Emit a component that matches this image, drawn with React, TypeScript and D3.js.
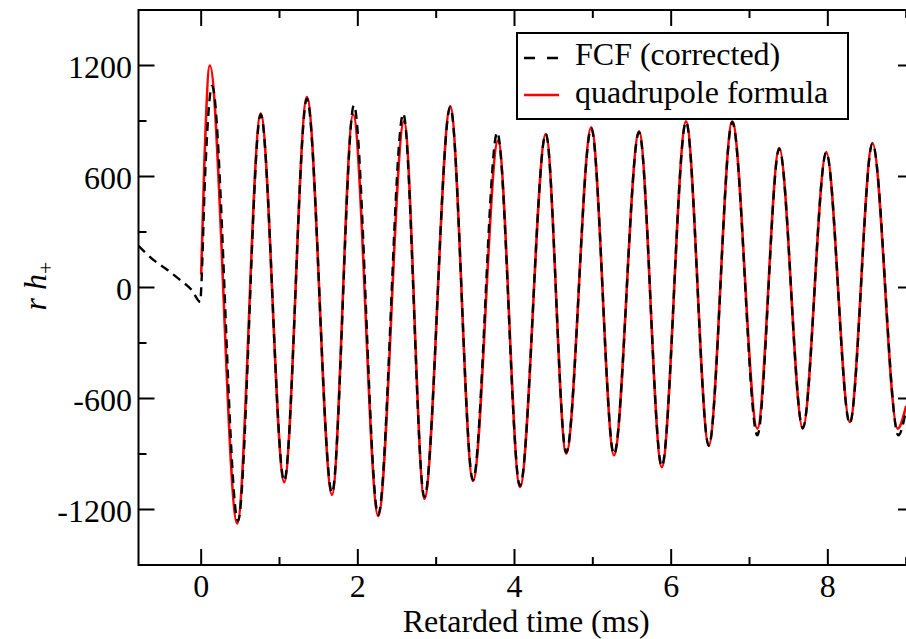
import React from "react";
import * as d3 from "d3";

const W = 906;
const H = 639;

// Axis ticks
const xMajorTicks = [0, 2, 4, 6, 8];
const xMinorTicks = [1, 3, 5, 7, 9];
const yMajorTicks = [-1200, -600, 0, 600, 1200];
const yMinorTicks = [-900, -300, 300, 900];

// Quadrupole formula (red), extrema
const quadTime = [0, 0.04, 0.11, 0.46, 0.76, 1.06, 1.35, 1.67, 1.94, 2.26, 2.59, 2.85, 3.18, 3.47, 3.79, 4.07, 4.4, 4.66, 4.98, 5.27, 5.59, 5.88, 6.19, 6.48, 6.78, 7.1, 7.38, 7.68, 7.98, 8.28, 8.57, 8.89, 9.0];
const quadValue = [70, 660, 1200, -1275, 940, -1052, 1030, -1120, 935, -1235, 898, -1142, 979, -1046, 794, -1079, 830, -898, 866, -907, 844, -971, 898, -853, 898, -763, 754, -763, 732, -727, 781, -763, -640];

// FCF (corrected) (black dashed)
const fcfTime = [-0.8, -0.61, -0.43, -0.27, -0.12, -0.01, 0.0, 0.05, 0.14, 0.47, 0.76, 1.06, 1.35, 1.67, 1.95, 2.26, 2.58, 2.85, 3.18, 3.47, 3.78, 4.07, 4.4, 4.66, 4.98, 5.27, 5.59, 5.88, 6.19, 6.48, 6.78, 7.1, 7.38, 7.68, 7.98, 8.28, 8.57, 8.9, 9.0];
const fcfValue = [225, 149, 95, 41, -14, -78, -10, 600, 1090, -1262, 935, -1045, 1020, -1110, 985, -1228, 940, -1132, 975, -1040, 838, -1072, 830, -892, 860, -902, 840, -966, 895, -856, 895, -799, 750, -760, 730, -735, 778, -799, -660];

const seriesNames = ["FCF (corrected)", "quadrupole formula"];

const FONT = "'Liberation Serif', 'Times New Roman', serif";

export default function App() {
  const x = d3.scaleLinear().domain([-0.8, 9.1]).range([138.5, 914]);
  const y = d3.scaleLinear().domain([-1500, 1500]).range([565, 10]);

  const line = d3
    .line<[number, number]>()
    .x((d) => x(d[0]))
    .y((d) => y(d[1]))
    .curve(d3.curveMonotoneX);

  const quadPts: [number, number][] = quadTime.map((t, i) => [t, quadValue[i]]);
  const fcfPts: [number, number][] = fcfTime.map((t, i) => [t, fcfValue[i]]);

  const [x0, x1] = x.range();
  const [y0, y1] = y.range(); // y0 bottom, y1 top
  const major = 16;
  const minor = 8;

  return (
    <svg
      width={W}
      height={H}
      style={{ position: "absolute", left: 0, top: 0, background: "#fff" }}
    >
      <defs>
        <clipPath id="plotclip">
          <rect x={x0} y={y1} width={x1 - x0} height={y0 - y1} />
        </clipPath>
      </defs>

      {/* data */}
      <g clipPath="url(#plotclip)">
        <path d={line(quadPts) || ""} fill="none" stroke="#ff0000" strokeWidth={2.6} strokeLinejoin="round" />
        <path d={line(fcfPts) || ""} fill="none" stroke="#000" strokeWidth={2.4} strokeDasharray="9,6" />
      </g>

      {/* frame */}
      <rect x={x0} y={y1} width={x1 - x0} height={y0 - y1} fill="none" stroke="#000" strokeWidth={2} />

      {/* x ticks */}
      {xMajorTicks.map((t) => (
        <g key={"xm" + t}>
          <line x1={x(t)} x2={x(t)} y1={y0} y2={y0 - major} stroke="#000" strokeWidth={2} />
          <line x1={x(t)} x2={x(t)} y1={y1} y2={y1 + major} stroke="#000" strokeWidth={2} />
          <text x={x(t)} y={597} textAnchor="middle" fontFamily={FONT} fontSize={32} fill="#000">
            {t}
          </text>
        </g>
      ))}
      {xMinorTicks.map((t) => (
        <g key={"xn" + t}>
          <line x1={x(t)} x2={x(t)} y1={y0} y2={y0 - minor} stroke="#000" strokeWidth={2} />
          <line x1={x(t)} x2={x(t)} y1={y1} y2={y1 + minor} stroke="#000" strokeWidth={2} />
        </g>
      ))}

      {/* y ticks */}
      {yMajorTicks.map((v) => (
        <g key={"ym" + v}>
          <line x1={x0} x2={x0 + major} y1={y(v)} y2={y(v)} stroke="#000" strokeWidth={2} />
          <line x1={x1} x2={x1 - major} y1={y(v)} y2={y(v)} stroke="#000" strokeWidth={2} />
          <text x={132} y={y(v) + 12} textAnchor="end" fontFamily={FONT} fontSize={32} fill="#000">
            {v}
          </text>
        </g>
      ))}
      {yMinorTicks.map((v) => (
        <g key={"yn" + v}>
          <line x1={x0} x2={x0 + minor} y1={y(v)} y2={y(v)} stroke="#000" strokeWidth={2} />
          <line x1={x1} x2={x1 - minor} y1={y(v)} y2={y(v)} stroke="#000" strokeWidth={2} />
        </g>
      ))}

      {/* axis titles */}
      <text x={(x0 + x1) / 2} y={632} textAnchor="middle" fontFamily={FONT} fontSize={32} fill="#000">
        Retarded time (ms)
      </text>
      <text
        transform="translate(46, 286) rotate(-90)"
        textAnchor="middle"
        fontFamily={FONT}
        fontSize={32}
        fill="#000"
      >
        <tspan fontStyle="italic">r h</tspan>
        <tspan fontSize={22} dy={7}>+</tspan>
      </text>

      {/* legend */}
      <rect x={517} y={33} width={331} height={86} fill="#fff" stroke="#000" strokeWidth={2} />
      <line x1={524} x2={559} y1={58} y2={58} stroke="#000" strokeWidth={2.4} strokeDasharray="11,12" />
      <text x={575} y={65} fontFamily={FONT} fontSize={32} fill="#000">
        {seriesNames[0]}
      </text>
      <line x1={524} x2={559} y1={95} y2={95} stroke="#ff0000" strokeWidth={2.6} />
      <text x={575} y={103} fontFamily={FONT} fontSize={32} fill="#000">
        {seriesNames[1]}
      </text>
    </svg>
  );
}
